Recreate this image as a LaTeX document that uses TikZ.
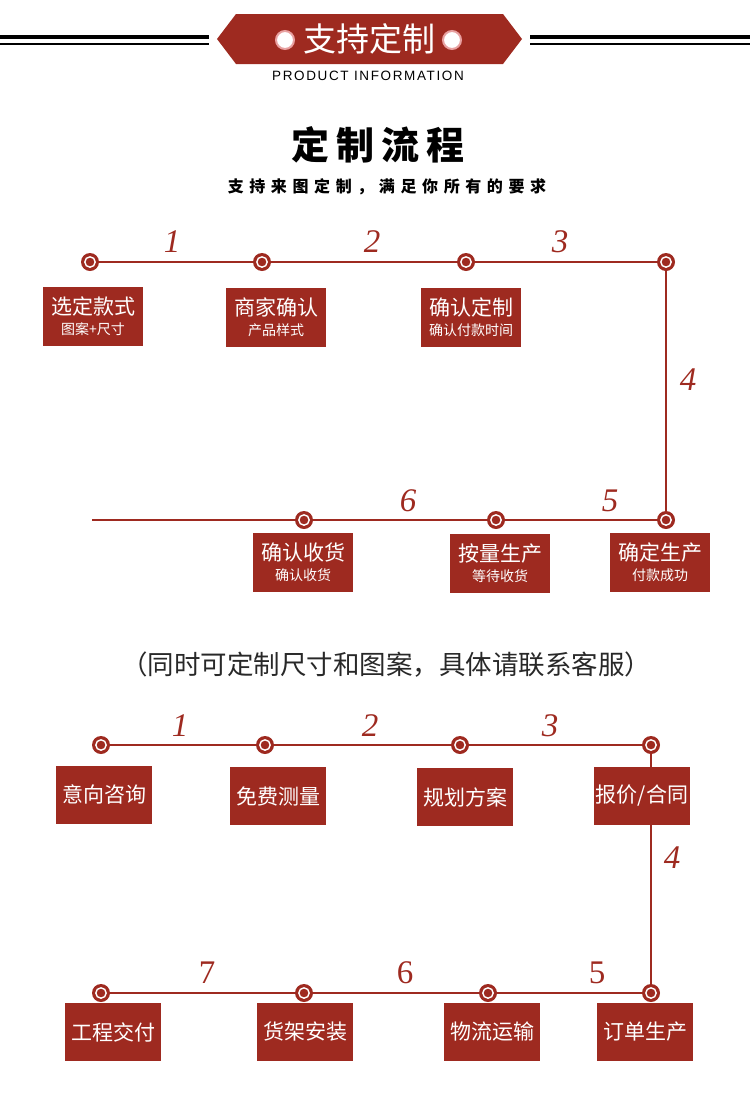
\documentclass[tikz,border=0pt]{standalone}
\usepackage{fontspec}
\setmainfont{Noto Sans CJK SC}
\newfontfamily\numfont{Liberation Serif}
\newfontfamily\latinfont{Liberation Sans}
\usepackage{xcolor}
\usepackage{tikz}
\usetikzlibrary{arrows.meta,positioning}
\definecolor{zzred}{RGB}{158,42,32}
\definecolor{zzpink}{RGB}{232,160,160}
\definecolor{zzgray}{RGB}{40,40,40}
\newcommand{\subtxt}[1]{{\fontsize{14}{16}\selectfont #1}}

\begin{document}
\begin{tikzpicture}[x=1pt, y=-1pt,
      stepbox/.style={fill=zzred, text=white, minimum width=100pt, minimum height=59pt,
                  inner sep=0pt, align=center, font=\fontsize{21}{24}\selectfont},
      plainbox/.style={stepbox, minimum width=96pt, minimum height=58pt},
      dot/.style={circle, fill=zzred, minimum size=18pt, inner sep=0pt,
                  path picture={\draw[white, line width=1.4pt]
                     (path picture bounding box.center) circle (5.2pt);}},
      flow/.style={draw=zzred, line width=1.8pt},
      num/.style={text=zzred, font=\numfont\itshape\fontsize{33}{33}\selectfont},
      upnum/.style={text=zzred, font=\numfont\fontsize{33}{33}\selectfont}
  ]
    \useasboundingbox (0,0) rectangle (750,1106);
    % header
    \draw[line width=4pt] (0,37) -- (209,37);  \draw[line width=2pt] (0,44) -- (209,44);
    \draw[line width=4pt] (530,37) -- (750,37); \draw[line width=2pt] (530,44) -- (750,44);
    \fill[zzred] (217,39) -- (236,14) -- (503,14) -- (522,39) -- (503,64) -- (236,64) -- cycle;
    \node[circle, fill=white, draw=zzpink, line width=2pt, minimum size=18pt, inner sep=0pt] (bl) at (285,40) {};
    \node[circle, fill=white, draw=zzpink, line width=2pt, minimum size=18pt, inner sep=0pt] (br) at (452,40) {};
    \node[text=white, font=\fontsize{33}{34}\selectfont] (banner) at (369,39) {支持定制};
    \node[font=\latinfont\fontsize{13.5}{14}\selectfont\addfontfeature{LetterSpace=12}] (info) at (368,76) {PRODUCT INFORMATION};
    \node[font=\bfseries\fontsize{38}{40}\selectfont\addfontfeature{LetterSpace=18}] (title) at (378,145) {定制流程};
    \node[font=\bfseries\fontsize{16}{18}\selectfont\addfontfeature{LetterSpace=35}] (slogan) at (387,187) {支持来图定制，满足你所有的要求};

    % flow one
    \node[dot] (a1) at (90,262) {};
    \node[dot] (a2) at (262,262) {};
    \node[dot] (a3) at (466,262) {};
    \node[dot] (a4) at (666,262) {};
    \node[dot] (a5) at (666,520) {};
    \node[dot] (a6) at (496,520) {};
    \node[dot] (a7) at (304,520) {};
    \coordinate (aend) at (92,520);
    \draw[flow] (a1) -- (a2); \draw[flow] (a2) -- (a3); \draw[flow] (a3) -- (a4);
    \draw[flow] (a4) -- (a5); \draw[flow] (a5) -- (a6); \draw[flow] (a6) -- (a7);
    \draw[flow] (a7) -- (aend);
    \node[num] (n1) at (172,242) {1};
    \node[num] (n2) at (372,242) {2};
    \node[num] (n3) at (560,242) {3};
    \node[num] (n4) at (688,380) {4};
    \node[num] (n5) at (610,501) {5};
    \node[num] (n6) at (408,501) {6};
    \node[stepbox] (s1) at (93,316) {选定款式\\[-4pt]\subtxt{图案+尺寸}};
    \node[stepbox] (s2) at (276,317) {商家确认\\[-4pt]\subtxt{产品样式}};
    \node[stepbox] (s3) at (471,317) {确认定制\\[-4pt]\subtxt{确认付款时间}};
    \node[stepbox] (s4) at (660,562) {确定生产\\[-4pt]\subtxt{付款成功}};
    \node[stepbox] (s5) at (500,563) {按量生产\\[-4pt]\subtxt{等待收货}};
    \node[stepbox] (s6) at (303,562) {确认收货\\[-4pt]\subtxt{确认收货}};

    \node[text=zzgray, font=\fontsize{26.5}{28}\selectfont] (note) at (386,665) {（同时可定制尺寸和图案，具体请联系客服）};

    % flow two
    \node[dot] (b1) at (101,745) {};
    \node[dot] (b2) at (265,745) {};
    \node[dot] (b3) at (460,745) {};
    \node[dot] (b4) at (651,745) {};
    \node[dot] (b5) at (651,993) {};
    \node[dot] (b6) at (488,993) {};
    \node[dot] (b7) at (304,993) {};
    \node[dot] (b8) at (101,993) {};
    \draw[flow] (b1) -- (b2); \draw[flow] (b2) -- (b3); \draw[flow] (b3) -- (b4);
    \draw[flow] (b4) -- (b5); \draw[flow] (b5) -- (b6); \draw[flow] (b6) -- (b7);
    \draw[flow] (b7) -- (b8);
    \node[num] (m1) at (180,726) {1};
    \node[num] (m2) at (370,726) {2};
    \node[num] (m3) at (550,726) {3};
    \node[num] (m4) at (672,858) {4};
    \node[upnum] (m5) at (597,973) {5};
    \node[upnum] (m6) at (405,973) {6};
    \node[upnum] (m7) at (207,973) {7};
    \node[plainbox] (t1) at (104,795) {意向咨询};
    \node[plainbox] (t2) at (278,796) {免费测量};
    \node[plainbox] (t3) at (465,797) {规划方案};
    \node[plainbox] (t4) at (642,796) {报价/合同};
    \node[plainbox] (t5) at (645,1032) {订单生产};
    \node[plainbox] (t6) at (492,1032) {物流运输};
    \node[plainbox] (t7) at (305,1032) {货架安装};
    \node[plainbox] (t8) at (113,1032) {工程交付};
  \end{tikzpicture}
\end{document}
